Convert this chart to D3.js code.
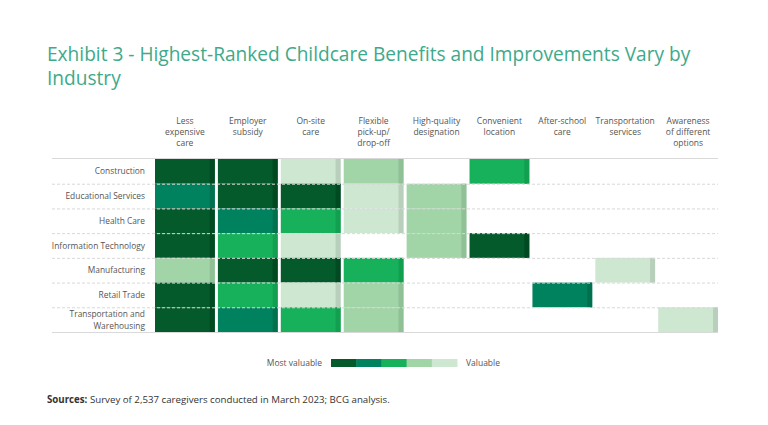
<!DOCTYPE html>
<html>
<head>
<meta charset="utf-8">
<script src="https://cdn.jsdelivr.net/npm/d3@7"></script>
<style>
  body { margin: 0; background: #fff; }
  text { font-family: "Open Sans", sans-serif; }
</style>
</head>
<body>
<svg width="768" height="425"></svg>
<script>
// benefits (columns), industries (rows), rank level 1 = most valuable .. 5 = valuable
var benefits = ["Less expensive care", "Employer subsidy", "On-site care", "Flexible pick-up/ drop-off",
  "High-quality designation", "Convenient location", "After-school care", "Transportation services",
  "Awareness of different options"];
var headerLines = [["Less", "expensive", "care"], ["Employer", "subsidy"], ["On-site", "care"],
  ["Flexible", "pick-up/", "drop-off"], ["High-quality", "designation"], ["Convenient", "location"],
  ["After-school", "care"], ["Transportation", "services"], ["Awareness", "of different", "options"]];
var industries = ["Construction", "Educational Services", "Health Care", "Information Technology",
  "Manufacturing", "Retail Trade", "Transportation and Warehousing"];
var industryLines = [["Construction"], ["Educational Services"], ["Health Care"], ["Information Technology"],
  ["Manufacturing"], ["Retail Trade"], ["Transportation and", "Warehousing"]];
// 0 = not ranked
var levels = [
  [1, 1, 5, 4, 0, 3, 0, 0, 0],
  [2, 1, 1, 5, 4, 0, 0, 0, 0],
  [1, 2, 3, 5, 4, 0, 0, 0, 0],
  [1, 3, 5, 0, 4, 1, 0, 0, 0],
  [4, 1, 1, 3, 0, 0, 0, 5, 0],
  [1, 3, 5, 4, 0, 0, 2, 0, 0],
  [1, 2, 3, 4, 0, 0, 0, 0, 5]
];
var legendLevels = [1, 2, 3, 4, 5];

var fillColors = ["#045a2b", "#01825f", "#17b15b", "#a1d4a7", "#cee7d1"];
var edgeColors = ["#004a22", "#00704f", "#12a050", "#90c096", "#b8cfbb"];

var svg = d3.select("svg");

svg.append("text")
  .attr("x", 47).attr("y", 61)
  .attr("fill", "#3ea98b")
  .style("font-size", "19.1px")
  .selectAll("tspan")
  .data(["Exhibit 3 - Highest-Ranked Childcare Benefits and Improvements Vary by", "Industry"])
  .enter().append("tspan")
  .attr("x", 47)
  .attr("dy", function(d, i) { return i ? 24 : 0; })
  .text(function(d) { return d; });

var x = d3.scaleBand().domain(benefits).range([155, 718]).paddingInner(0.05);
var y = d3.scaleBand().domain(industries).range([159, 332]);

var cells = [];
levels.forEach(function(row, r) {
  row.forEach(function(v, c) {
    if (v) cells.push({ industry: industries[r], benefit: benefits[c], level: v });
  });
});

var g = svg.append("g");
g.selectAll("rect.cell")
  .data(cells)
  .enter().append("rect")
  .attr("class", "cell")
  .attr("x", function(d) { return x(d.benefit); })
  .attr("y", function(d) { return y(d.industry); })
  .attr("width", x.bandwidth())
  .attr("height", y.bandwidth())
  .attr("fill", function(d) { return fillColors[d.level - 1]; });
g.selectAll("rect.edge")
  .data(cells)
  .enter().append("rect")
  .attr("class", "edge")
  .attr("x", function(d) { return x(d.benefit) + x.bandwidth() - 5; })
  .attr("y", function(d) { return y(d.industry); })
  .attr("width", 5)
  .attr("height", y.bandwidth())
  .attr("fill", function(d) { return edgeColors[d.level - 1]; });

// row separators
g.selectAll("line.sep")
  .data(industries.slice(1))
  .enter().append("line")
  .attr("x1", 52).attr("x2", 718)
  .attr("y1", function(d) { return y(d) + 0.5; })
  .attr("y2", function(d) { return y(d) + 0.5; })
  .attr("stroke", "#d8d8d8")
  .attr("stroke-dasharray", "3,2");
[y.range()[0] - 0.5, y.range()[1] + 0.5].forEach(function(v) {
  g.append("line").attr("x1", 52).attr("x2", 718).attr("y1", v).attr("y2", v)
    .attr("stroke", "#d9d9d9");
});

// column headers
svg.append("g").selectAll("text")
  .data(headerLines)
  .enter().append("text")
  .attr("text-anchor", "middle")
  .attr("fill", "#555")
  .style("font-size", "8.5px")
  .each(function(lines, i) {
    d3.select(this).selectAll("tspan")
      .data(lines)
      .enter().append("tspan")
      .attr("x", x(benefits[i]) + x.bandwidth() / 2)
      .attr("y", function(d, j) { return 124 + j * 11; })
      .text(function(d) { return d; });
  });

// row labels
svg.append("g").selectAll("text")
  .data(industryLines)
  .enter().append("text")
  .attr("text-anchor", "end")
  .attr("fill", "#555")
  .style("font-size", "8.4px")
  .each(function(lines, i) {
    var cy = y(industries[i]) + y.bandwidth() / 2;
    d3.select(this).selectAll("tspan")
      .data(lines)
      .enter().append("tspan")
      .attr("x", 145)
      .attr("y", function(d, j) { return cy + 3 + (j - (lines.length - 1) / 2) * 12; })
      .text(function(d) { return d; });
  });

// legend
var lx = d3.scaleBand().domain(legendLevels).range([331, 457]);
svg.append("g").selectAll("rect")
  .data(legendLevels)
  .enter().append("rect")
  .attr("x", function(d) { return lx(d); })
  .attr("y", 359)
  .attr("width", lx.bandwidth() + 0.5)
  .attr("height", 8)
  .attr("fill", function(d) { return fillColors[d - 1]; });
svg.append("text").attr("x", 322).attr("y", 366).attr("text-anchor", "end")
  .attr("fill", "#555").style("font-size", "8.5px").text("Most valuable");
svg.append("text").attr("x", 466).attr("y", 366)
  .attr("fill", "#555").style("font-size", "8.5px").text("Valuable");

// source
var src = svg.append("text").attr("x", 47).attr("y", 403)
  .attr("fill", "#333").style("font-size", "9.7px");
src.append("tspan").style("font-weight", "bold").text("Sources:");
src.append("tspan").text(" Survey of 2,537 caregivers conducted in March 2023; BCG analysis.");
</script>
</body>
</html>
